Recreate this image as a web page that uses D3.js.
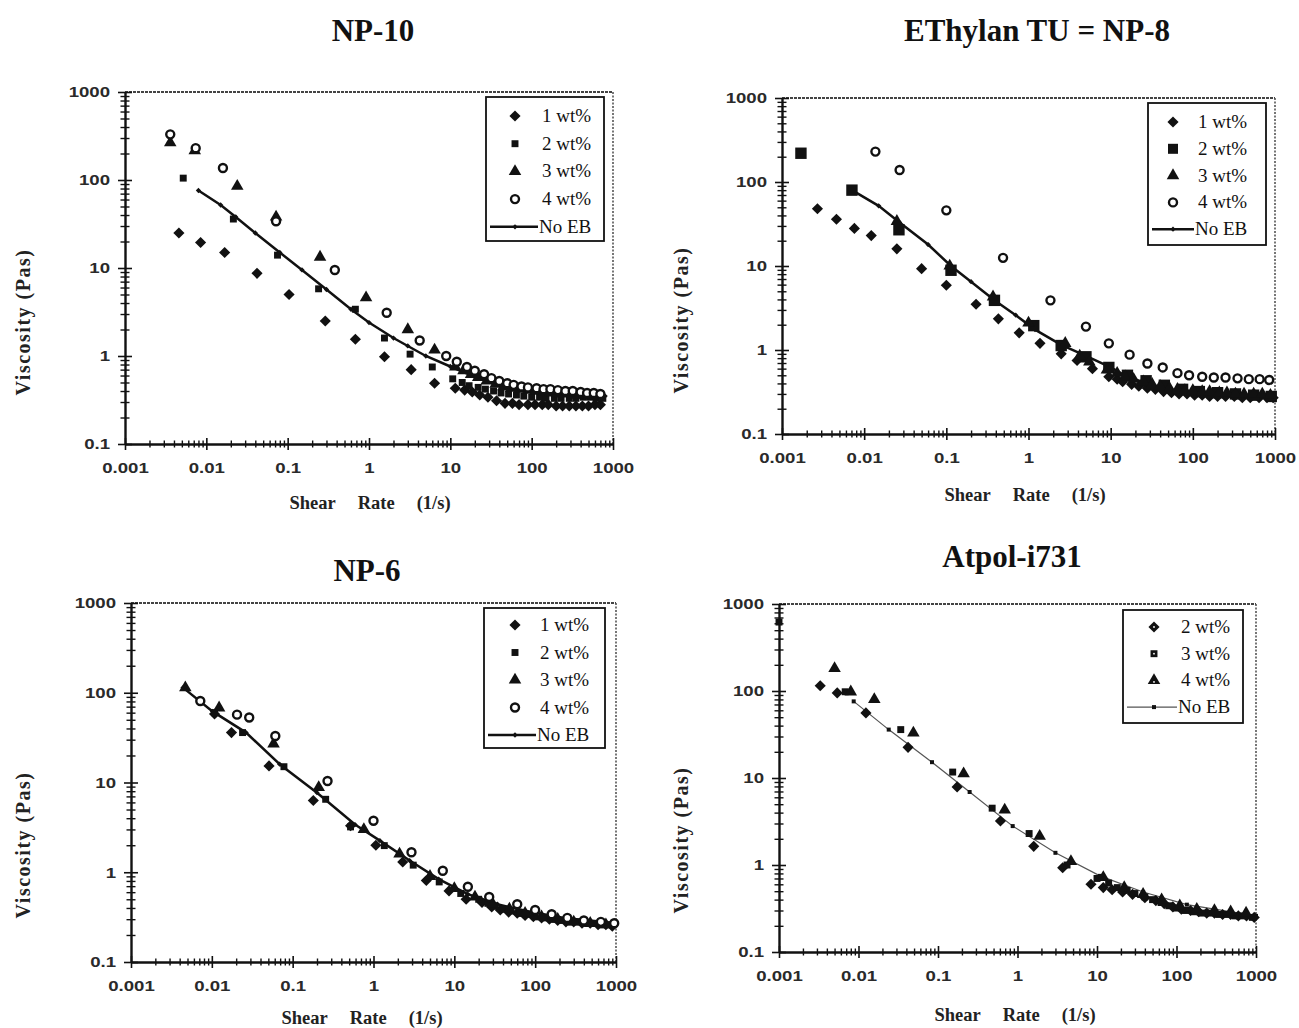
<!DOCTYPE html>
<html lang="en">
<head>
<meta charset="UTF-8">
<title>Viscosity vs shear rate</title>
<script src="https://d3js.org/d3.v7.min.js"></script>
<style>
  body { margin: 0; background: #fff; }
  svg { display: block; }
</style>
</head>
<body>
<script>
// ---- data: [shear rate (1/s), viscosity (Pas)] ----

// NP-10
const np10_1wt = [[0.0046,25],[0.0085,19.5],[0.0168,15],[0.042,8.7],[0.104,5.0],[0.29,2.5],[0.68,1.55],[1.55,0.98],[3.3,0.70],[6.4,0.49],[11.5,0.43],[15,0.41],[18.6,0.39],[23,0.36],[29,0.34],[37,0.31],[47,0.29],[58,0.29],[70,0.28],[90,0.28],[110,0.28],[135,0.28],[160,0.28],[200,0.27],[240,0.27],[290,0.27],[350,0.27],[420,0.27],[500,0.27],[600,0.28],[700,0.28]];
const np10_2wt = [[0.0052,105],[0.0215,36],[0.075,14],[0.24,5.8],[0.68,3.4],[1.55,1.6],[3.2,1.05],[6,0.75],[10.7,0.55],[14,0.5],[17,0.46],[22,0.44],[27,0.42],[34,0.4],[42,0.38],[52,0.37],[65,0.36],[80,0.35],[100,0.34],[125,0.34],[150,0.33],[190,0.33],[230,0.33],[290,0.33],[350,0.33],[430,0.34],[520,0.34],[620,0.33],[750,0.33]];
const np10_3wt = [[0.0036,265],[0.0072,215],[0.024,85],[0.072,38],[0.25,13.3],[0.92,4.6],[3.0,2.0],[6.4,1.17],[11.5,0.75],[14.5,0.68],[18,0.62],[22,0.57],[28,0.52],[36,0.48],[45,0.45],[56,0.43],[70,0.42],[90,0.41],[110,0.4],[140,0.39],[170,0.38],[210,0.37],[260,0.37],[330,0.36],[400,0.36],[500,0.35],[600,0.35]];
const np10_4wt = [[0.0036,330],[0.0074,230],[0.016,137],[0.072,34],[0.38,9.5],[1.65,3.1],[4.2,1.5],[8.9,1.0],[12,0.86],[16,0.75],[20,0.68],[26,0.62],[32,0.56],[40,0.52],[50,0.49],[60,0.47],[75,0.45],[90,0.44],[115,0.43],[140,0.42],[170,0.42],[210,0.41],[260,0.4],[320,0.4],[400,0.39],[480,0.38],[580,0.38],[700,0.37]];
const np10_noEB = [[0.008,76],[0.015,52],[0.023,38],[0.04,25],[0.08,15],[0.15,9.5],[0.3,5.7],[0.6,3.4],[1,2.4],[2,1.6],[3,1.3],[5,1.0],[10,0.76],[20,0.58],[40,0.47],[80,0.41],[150,0.38],[300,0.36],[800,0.35]];

// EThylan TU = NP-8
const np8_1wt = [[0.0027,48],[0.0046,36],[0.0076,28],[0.0122,23],[0.025,16],[0.05,9.3],[0.1,5.9],[0.23,3.5],[0.43,2.35],[0.77,1.6],[1.38,1.2],[2.5,0.9],[3.9,0.75],[6,0.6],[9.5,0.48],[12,0.45],[14,0.42],[18,0.39],[22,0.37],[28,0.35],[35,0.34],[44,0.32],[55,0.31],[68,0.3],[85,0.3],[105,0.29],[130,0.29],[160,0.28],[200,0.28],[250,0.28],[320,0.28],[400,0.27],[500,0.27],[640,0.27],[800,0.27],[950,0.27]];
const np8_2wt = [[0.0017,220],[0.0071,80],[0.0265,27],[0.114,8.9],[0.385,3.9],[1.16,1.95],[2.5,1.13],[5,0.83],[9.5,0.62],[16,0.5],[27,0.43],[45,0.38],[75,0.34],[120,0.32],[200,0.31],[330,0.3],[550,0.29],[900,0.28]];
const np8_3wt = [[0.025,34],[0.11,10],[0.37,4.3],[1.0,2.1],[2.8,1.2],[4.2,0.85],[5.5,0.72],[9,0.58],[12,0.53],[15,0.48],[19,0.45],[25,0.42],[32,0.39],[40,0.37],[52,0.35],[65,0.34],[80,0.33],[100,0.33],[130,0.32],[160,0.32],[210,0.31],[260,0.31],[330,0.3],[420,0.3],[550,0.3],[700,0.3],[880,0.29]];
const np8_4wt = [[0.0137,230],[0.027,139],[0.1,46],[0.49,12.5],[1.85,3.9],[5,1.9],[9.5,1.2],[17,0.88],[28,0.69],[43,0.62],[65,0.53],[90,0.5],[130,0.48],[180,0.47],[250,0.47],[350,0.46],[480,0.45],[650,0.45],[850,0.44]];
const np8_noEB = [[0.0071,80],[0.015,52],[0.027,33],[0.06,18],[0.114,10],[0.2,6.5],[0.385,3.9],[0.7,2.6],[1.2,1.75],[2.5,1.15],[5,0.85],[10,0.62],[16,0.48],[30,0.39],[50,0.34],[100,0.31],[200,0.29],[500,0.28],[1000,0.27]];

// NP-6
const np6_1wt = [[0.0108,58],[0.0175,36],[0.051,15.3],[0.18,6.3],[0.52,3.3],[1.07,2.0],[2.3,1.3],[4.5,0.81],[8.6,0.62],[14,0.5],[22,0.46],[29,0.41],[37,0.38],[47,0.36],[60,0.35],[75,0.33],[95,0.32],[120,0.31],[150,0.3],[190,0.29],[240,0.28],[300,0.28],[380,0.27],[480,0.27],[600,0.26],[750,0.26],[900,0.25]];
const np6_2wt = [[0.0108,60],[0.024,36],[0.078,15],[0.256,6.5],[0.52,3.2],[1.36,1.98],[3.1,1.2],[6.5,0.78],[12,0.58],[20,0.5],[26,0.45],[32,0.42],[40,0.39],[50,0.37],[64,0.35],[80,0.34],[100,0.32],[130,0.31],[165,0.3],[210,0.29],[270,0.28],[340,0.28],[430,0.27],[550,0.27],[680,0.26],[850,0.26]];
const np6_3wt = [[0.0047,114],[0.0123,68],[0.058,27],[0.21,8.8],[0.76,3.0],[2.1,1.6],[5,0.9],[10,0.66],[18,0.53],[30,0.44],[48,0.39],[75,0.35],[120,0.32],[190,0.3],[300,0.28],[480,0.27],[750,0.26]];
const np6_4wt = [[0.0072,81],[0.0205,57],[0.029,53],[0.061,33],[0.27,10.4],[1.0,3.75],[2.95,1.67],[7.2,1.04],[14.7,0.69],[27,0.53],[60,0.44],[100,0.38],[160,0.34],[250,0.31],[400,0.29],[650,0.28],[950,0.27]];
const np6_noEB = [[0.0044,114],[0.0102,62],[0.0265,36],[0.069,16],[0.2,7.7],[0.59,3.4],[1.2,2.25],[2.8,1.35],[6.4,0.84],[14.7,0.57],[34,0.44],[89,0.36],[230,0.31],[960,0.27]];

// Atpol-i731
const at_2wt = [[0.0033,115],[0.0054,95],[0.0124,56],[0.042,22.5],[0.174,7.9],[0.61,3.2],[1.6,1.64],[3.7,0.93],[8.4,0.6],[12,0.55],[15.5,0.52],[21,0.49],[28,0.46],[40,0.42],[55,0.39],[70,0.36],[90,0.33],[115,0.31],[150,0.3],[190,0.29],[240,0.28],[300,0.28],[380,0.27],[480,0.27],[600,0.26],[760,0.26],[950,0.25]];
const at_3wt = [[0.001,620],[0.0068,98],[0.034,36],[0.153,11.7],[0.48,4.5],[1.4,2.3],[4.2,1.0],[10,0.7],[14,0.62],[18,0.55],[24,0.51],[30,0.47],[40,0.43],[50,0.4],[64,0.37],[80,0.34],[100,0.32],[130,0.3],[165,0.29],[210,0.28],[270,0.28],[340,0.27],[430,0.27],[550,0.26],[700,0.26],[900,0.25]];
const at_4wt = [[0.005,182],[0.008,98],[0.0158,80],[0.049,33],[0.21,11.2],[0.69,4.3],[1.9,2.14],[4.7,1.1],[12,0.72],[22,0.55],[38,0.46],[65,0.4],[110,0.34],[180,0.31],[300,0.3],[480,0.29],[750,0.28]];
const at_noEB = [[0.0087,76],[0.024,36],[0.084,15.2],[0.25,6.9],[0.87,2.8],[3.0,1.38],[10.9,0.75],[38,0.49],[135,0.35],[1000,0.26]];

// axis ticks
const xMajor = [0.001, 0.01, 0.1, 1, 10, 100, 1000];
const yMajor = [0.1, 1, 10, 100, 1000];

// ---- layout ----
const panels = [
  { title: "NP-10", left: 125, right: 613, top: 92, bottom: 444,
    titleX: 373, titleY: 41, xLabX: 370, xLabY: 509, yLabX: 30, yLabY: 322,
    series: [["1 wt%", np10_1wt, "diamond"], ["2 wt%", np10_2wt, "square"], ["3 wt%", np10_3wt, "triangle"], ["4 wt%", np10_4wt, "circle"]],
    noEB: np10_noEB, lineStyle: "bold",
    legend: { x: 486, y: 97, w: 118, h: 144, row0: 19, dy: 27.7, mx: 29, tx: 56, hollow: false } },
  { title: "EThylan TU = NP-8", left: 782, right: 1275, top: 98, bottom: 434,
    titleX: 1037, titleY: 41, xLabX: 1025, xLabY: 501, yLabX: 688, yLabY: 320,
    series: [["1 wt%", np8_1wt, "diamond"], ["2 wt%", np8_2wt, "bigsquare"], ["3 wt%", np8_3wt, "triangle"], ["4 wt%", np8_4wt, "circle"]],
    noEB: np8_noEB, lineStyle: "bold",
    legend: { x: 1148, y: 103, w: 118, h: 142, row0: 19, dy: 26.8, mx: 25, tx: 50, hollow: false } },
  { title: "NP-6", left: 131, right: 616, top: 603, bottom: 962,
    titleX: 367, titleY: 581, xLabX: 362, xLabY: 1024, yLabX: 30, yLabY: 845,
    series: [["1 wt%", np6_1wt, "diamond"], ["2 wt%", np6_2wt, "square"], ["3 wt%", np6_3wt, "triangle"], ["4 wt%", np6_4wt, "circle"]],
    noEB: np6_noEB, lineStyle: "bold",
    legend: { x: 484, y: 608, w: 121, h: 140, row0: 17, dy: 27.5, mx: 31, tx: 56, hollow: false } },
  { title: "Atpol-i731", left: 779, right: 1256, top: 604, bottom: 952,
    titleX: 1012, titleY: 567, xLabX: 1015, xLabY: 1021, yLabX: 688, yLabY: 840,
    series: [["2 wt%", at_2wt, "diamond"], ["3 wt%", at_3wt, "square"], ["4 wt%", at_4wt, "triangle"]],
    noEB: at_noEB, lineStyle: "thin",
    legend: { x: 1123, y: 610, w: 120, h: 113, row0: 17, dy: 26.7, mx: 31, tx: 58, hollow: true } }
];

const W = 1299, H = 1028;
const serif = "'Liberation Serif', 'Times New Roman', serif";
const sans = "'Liberation Sans', Arial, sans-serif";
const tickStretch = 1.2;

const svg = d3.select("body").append("svg")
    .attr("width", W)
    .attr("height", H)
    .style("background", "#fff");

function minorTicks(lo, hi) {
    let out = [];
    for (let k = lo; k < hi; k++) {
        for (let m = 2; m <= 9; m++) out.push(m * Math.pow(10, k));
    }
    return out;
}

function marker(g, shape, px, py) {
    if (shape === "circle") {
        g.append("circle")
            .attr("cx", px).attr("cy", py).attr("r", 4)
            .attr("fill", "#fff").attr("stroke", "#111").attr("stroke-width", 2.4);
        return;
    }
    let sym, size, rot = 0;
    if (shape === "diamond") { sym = d3.symbolSquare; size = 62; rot = 45; }
    else if (shape === "square") { sym = d3.symbolSquare; size = 48; }
    else if (shape === "bigsquare") { sym = d3.symbolSquare; size = 130; }
    else if (shape === "triangle") { sym = d3.symbolTriangle; size = 68; }
    else if (shape === "tiny") { sym = d3.symbolSquare; size = 14; rot = 45; }
    else if (shape === "tinysq") { sym = d3.symbolSquare; size = 16; }
    g.append("path")
        .attr("d", d3.symbol(sym, size)())
        .attr("transform", `translate(${px},${py}) rotate(${rot})`)
        .attr("fill", "#111");
}

panels.forEach(p => {
    const g = svg.append("g");

    const x = d3.scaleLog().domain([0.001, 1000]).range([p.left, p.right]);
    const y = d3.scaleLog().domain([0.1, 1000]).range([p.bottom, p.top]);

    // top and right frame (dotted in the scan)
    g.append("line")
        .attr("x1", p.left).attr("x2", p.right).attr("y1", p.top).attr("y2", p.top)
        .attr("stroke", "#444").attr("stroke-width", 2).attr("stroke-dasharray", "3,1");
    g.append("line")
        .attr("x1", p.right).attr("x2", p.right).attr("y1", p.top).attr("y2", p.bottom)
        .attr("stroke", "#555").attr("stroke-width", 1.6).attr("stroke-dasharray", "2,1.5");

    // minor ticks
    g.append("g")
        .attr("transform", `translate(0,${p.bottom})`)
        .call(d3.axisBottom(x).tickValues(minorTicks(-3, 3)).tickFormat("").tickSize(0))
        .call(a => a.select(".domain").remove())
        .selectAll(".tick line").attr("y1", -3.5).attr("y2", 3.5).attr("stroke", "#111").attr("stroke-width", 1.4);
    g.append("g")
        .attr("transform", `translate(${p.left},0)`)
        .call(d3.axisLeft(y).tickValues(minorTicks(-1, 3)).tickFormat("").tickSize(0))
        .call(a => a.select(".domain").remove())
        .selectAll(".tick line").attr("x1", -4.5).attr("x2", 4.5).attr("stroke", "#111").attr("stroke-width", 1.4);

    // major axes
    const fmt = d3.format("~g");
    const xa = g.append("g")
        .attr("transform", `translate(0,${p.bottom})`)
        .call(d3.axisBottom(x).tickValues(xMajor).tickFormat(fmt).tickSizeInner(0).tickSizeOuter(0).tickPadding(18));
    xa.selectAll(".tick line").attr("y1", -6).attr("y2", 6).attr("stroke", "#111").attr("stroke-width", 1.6);
    const ya = g.append("g")
        .attr("transform", `translate(${p.left},0)`)
        .call(d3.axisLeft(y).tickValues(yMajor).tickFormat(fmt).tickSizeInner(0).tickSizeOuter(0).tickPadding(15));
    ya.selectAll(".tick line").attr("x1", -7).attr("x2", 7).attr("stroke", "#111").attr("stroke-width", 1.6);
    ya.selectAll(".tick text").attr("x", -15 / tickStretch);
    [xa, ya].forEach(a => {
        a.select(".domain").attr("stroke", "#111").attr("stroke-width", 2.4);
        a.selectAll(".tick text")
            .attr("transform", `scale(${tickStretch},1)`)
            .style("font-family", sans).style("font-size", "15.5px").style("font-weight", "bold")
            .attr("fill", "#2a2a2a");
    });

    // No EB line
    const line = d3.line().x(d => x(d[0])).y(d => y(d[1]));
    const bold = p.lineStyle === "bold";
    g.append("path")
        .datum(p.noEB)
        .attr("d", line)
        .attr("fill", "none")
        .attr("stroke", bold ? "#111" : "#555")
        .attr("stroke-width", bold ? 2.5 : 1.2);
    const lm = g.append("g");
    p.noEB.forEach(d => marker(lm, bold ? "tiny" : "tinysq", x(d[0]), y(d[1])));

    // data series
    p.series.forEach(s => {
        const sg = g.append("g");
        s[1].forEach(d => marker(sg, s[2], x(d[0]), y(d[1])));
    });

    // legend
    const L = p.legend;
    const lg = g.append("g").attr("transform", `translate(${L.x},${L.y})`);
    lg.append("rect")
        .attr("width", L.w).attr("height", L.h)
        .attr("fill", "#fff").attr("stroke", "#111").attr("stroke-width", 1.8);
    const items = p.series.map(s => [s[0], s[2]]).concat([["No EB", "line"]]);
    items.forEach((it, i) => {
        const cy = L.row0 + i * L.dy;
        if (it[1] === "line") {
            lg.append("line")
                .attr("x1", 4).attr("x2", L.tx - 4).attr("y1", cy).attr("y2", cy)
                .attr("stroke", bold ? "#111" : "#555").attr("stroke-width", bold ? 2.5 : 1.2);
            marker(lg, bold ? "tiny" : "tinysq", L.mx, cy);
        } else {
            marker(lg, it[1] === "bigsquare" ? "square" : it[1], L.mx, cy);
            if (it[1] === "bigsquare") {
                // bigger legend swatch, like the scan
                lg.append("rect").attr("x", L.mx - 5).attr("y", cy - 5).attr("width", 10).attr("height", 10).attr("fill", "#111");
            }
            if (L.hollow) {
                lg.append("circle").attr("cx", L.mx).attr("cy", cy + (it[1] === "triangle" ? 1.5 : 0)).attr("r", 0.9).attr("fill", "#fff");
            }
        }
        lg.append("text")
            .attr("x", it[1] === "line" ? L.tx - 3 : L.tx)
            .attr("y", cy + 6)
            .style("font-family", serif).style("font-size", "19px")
            .attr("fill", "#111")
            .text(it[0]);
    });

    // title
    g.append("text")
        .attr("x", p.titleX).attr("y", p.titleY)
        .attr("text-anchor", "middle")
        .style("font-family", serif).style("font-size", "31px").style("font-weight", "bold")
        .attr("fill", "#111")
        .text(p.title);

    // x label
    const xl = g.append("text")
        .attr("x", p.xLabX).attr("y", p.xLabY)
        .attr("text-anchor", "middle")
        .style("font-family", serif).style("font-size", "18.5px").style("font-weight", "bold")
        .attr("fill", "#222");
    xl.append("tspan").text("Shear");
    xl.append("tspan").attr("dx", 22).text("Rate");
    xl.append("tspan").attr("dx", 22).text("(1/s)");

    // y label
    g.append("text")
        .attr("transform", `translate(${p.yLabX},${p.yLabY}) rotate(-90)`)
        .attr("text-anchor", "middle")
        .style("font-family", serif).style("font-size", "20px").style("font-weight", "bold")
        .style("letter-spacing", "1.5px")
        .attr("fill", "#222")
        .text("Viscosity (Pas)");
});
</script>
</body>
</html>
